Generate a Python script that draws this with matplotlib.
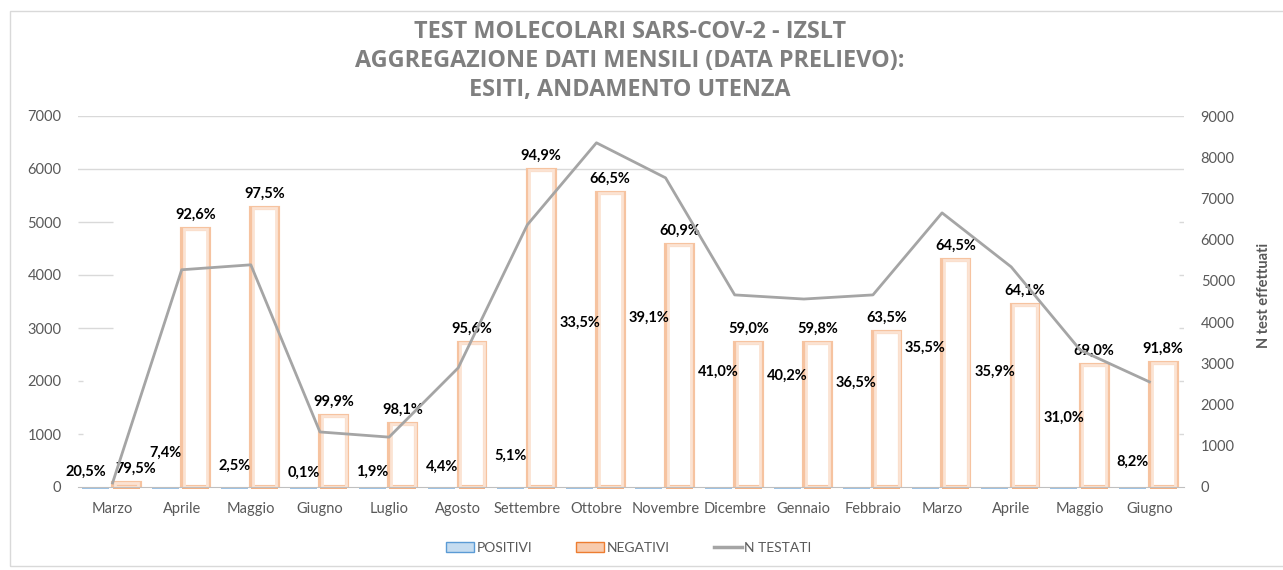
import numpy as np
import matplotlib.pyplot as plt
from matplotlib.patches import Patch, Rectangle
from matplotlib.lines import Line2D

# dati mensili
mesi = ['Marzo', 'Aprile', 'Maggio', 'Giugno', 'Luglio', 'Agosto', 'Settembre',
        'Ottobre', 'Novembre', 'Dicembre', 'Gennaio', 'Febbraio', 'Marzo',
        'Aprile', 'Maggio', 'Giugno']
positivi = [20, 390, 135, 1, 23, 125, 320, 2830, 2920, 1905, 1830, 1700, 2360,
            1905, 1040, 208]
negativi = [78, 4870, 5260, 1340, 1190, 2720, 5980, 5550, 4570, 2720, 2720,
            2925, 4280, 3430, 2300, 2340]
n_testati = [98, 5270, 5390, 1335, 1210, 2890, 6360, 8350, 7500, 4660, 4560,
             4660, 6650, 5340, 3320, 2550]
pct_pos = ['20,5%', '7,4%', '2,5%', '0,1%', '1,9%', '4,4%', '5,1%', '33,5%',
           '39,1%', '41,0%', '40,2%', '36,5%', '35,5%', '35,9%', '31,0%', '8,2%']
pct_neg = ['79,5%', '92,6%', '97,5%', '99,9%', '98,1%', '95,6%', '94,9%',
           '66,5%', '60,9%', '59,0%', '59,8%', '63,5%', '64,5%', '64,1%',
           '69,0%', '91,8%']
left_ticks = list(range(0, 7001, 1000))
right_ticks = list(range(0, 9001, 1000))

plt.rcParams['font.family'] = ['Lato', 'DejaVu Sans']
grigio = '#595959'

fig = plt.figure(figsize=(12.83, 5.70), dpi=100)
ax = fig.add_axes([78 / 1283, 1 - 487 / 570, 1106 / 1283, 371 / 570])
ax2 = ax.twinx()

x = np.arange(len(mesi))
w = 0.39
off_pos = -0.24
off_neg = 0.2

# griglia (solo parzialmente visibile come nell'originale)
for t in left_ticks[1:]:
    if t >= 6000:
        ax.axhline(t, color='#D9D9D9', lw=1, zorder=0)
    elif t >= 3000:
        ax.hlines(t, -0.5, 0.0, color='#D9D9D9', lw=1, zorder=0)
    else:
        ax.hlines(t, -0.5, -0.43, color='#D9D9D9', lw=1, zorder=0)
    if t < 6000:
        ax.hlines(t, 15.43, 15.5, color='#D9D9D9', lw=1, zorder=0)

b_pos = ax.bar(x + off_pos, positivi, w, color='none', edgecolor='none')
b_neg = ax.bar(x + off_neg, negativi, w, facecolor='white',
               edgecolor='#F6C3A0', linewidth=3.0, zorder=2)
ax.bar(x + off_neg, negativi, w - 0.05, facecolor='none',
       edgecolor='#FBE3D3', linewidth=2.0, zorder=2)
# strisce alla base
ax.bar(x + off_pos, -35, w, color='#9DC3E6', clip_on=False, zorder=1)
ax.bar(x + off_neg, -35, w, color='#F4B183', clip_on=False, zorder=1)

lab_pos = ax.bar_label(b_pos, labels=pct_pos, padding=5, fontsize=10.5,
                       fontweight='bold', color='black')
lab_neg = ax.bar_label(b_neg, labels=pct_neg, padding=5, fontsize=10.5,
                       fontweight='bold', color='black')
# Marzo: etichette affiancate, spostate per non sovrapporsi
lab_pos[0].xyann = (-7, 5)
lab_neg[0].xyann = (7, 5)

ax2.plot(x, n_testati, color='#A5A5A5', lw=2)

ax.set_xlim(-0.5, 15.5)
ax.set_ylim(0, 7000)
ax2.set_ylim(0, 9000)
ax.set_yticks(left_ticks)
ax2.set_yticks(right_ticks)
ax.set_xticks(x)
ax.set_xticklabels(mesi)

for a in (ax, ax2):
    for s in ('top', 'left', 'right', 'bottom'):
        a.spines[s].set_visible(False)
    a.tick_params(length=0, labelsize=10.5, labelcolor=grigio)
ax.spines['bottom'].set_visible(True)
ax.spines['bottom'].set_color('#BFBFBF')
ax.tick_params(axis='x', pad=11, labelsize=10.5)
ax.tick_params(axis='y', pad=12)
ax2.tick_params(axis='y', pad=12)

ax2.set_ylabel('N test effettuati', fontsize=10.5, fontweight='bold',
               color=grigio)
ax2.yaxis.set_label_coords(1.066, 0.515)

fig.text(0.491, 1 - 61 / 570,
         'TEST MOLECOLARI SARS-COV-2 - IZSLT\n'
         'AGGREGAZIONE DATI MENSILI (DATA PRELIEVO):\n'
         'ESITI, ANDAMENTO UTENZA',
         ha='center', va='center', fontsize=16.8, fontweight='bold',
         color='#7F7F7F', linespacing=1.29, family=['Open Sans', 'DejaVu Sans'])

handles = [Patch(facecolor='#C5DCF0', edgecolor='#5B9BD5'),
           Patch(facecolor='#F8CBAD', edgecolor='#ED7D31'),
           Line2D([], [], color='#A5A5A5', lw=2.5)]
fig.legend(handles, ['POSITIVI', 'NEGATIVI', 'N TESTATI'], loc='center',
           bbox_to_anchor=(0.49, 1 - 548 / 570), ncol=3, frameon=False,
           fontsize=10, handlelength=2.0, handletextpad=0.15,
           columnspacing=3.2, labelcolor=grigio)

fig.add_artist(Rectangle((10 / 1283, 4 / 570), 1.0, 1 - 11 / 570 - 4 / 570,
                         transform=fig.transFigure, fill=False,
                         edgecolor='#D9D9D9', lw=1))

fig.savefig('out.png', dpi=100)
